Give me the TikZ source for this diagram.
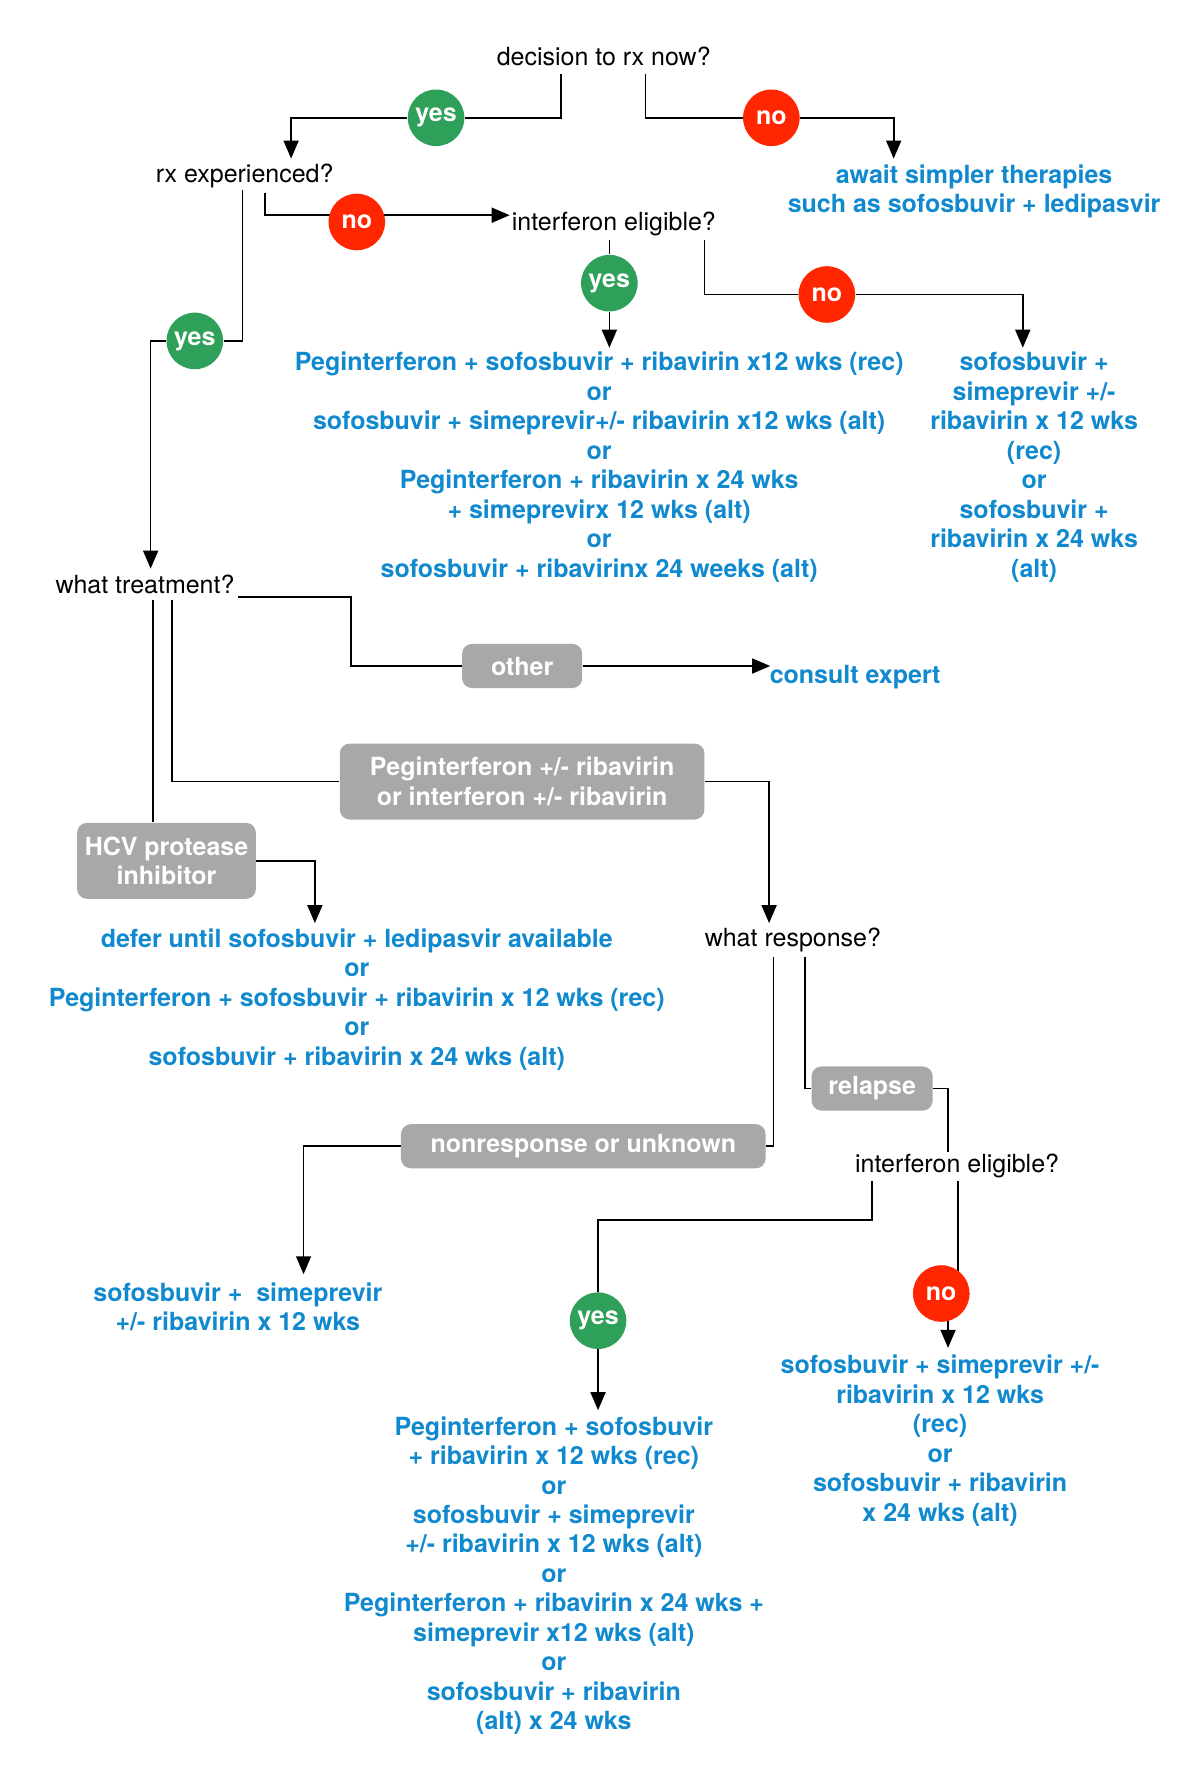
\documentclass[tikz,border=0pt]{standalone}
\usepackage{fontspec}
\setmainfont{TeX Gyre Heros}
\usetikzlibrary{arrows.meta,backgrounds}
\definecolor{rxblue}{RGB}{16,137,206}
\definecolor{yesgreen}{RGB}{46,160,90}
\definecolor{nored}{RGB}{255,38,0}
\definecolor{boxgrey}{RGB}{168,168,168}
\tikzset{
  question/.style={font=\fontsize{12.5}{14.73}\selectfont, inner sep=1pt},
  therapy/.style={font=\fontsize{12.5}{14.73}\selectfont\bfseries, text=rxblue, align=center, inner sep=1pt},
  yescirc/.style={circle, fill=yesgreen, text=white, font=\fontsize{12.5}{14.73}\selectfont\bfseries, minimum size=28.3pt, inner sep=0pt},
  nocirc/.style={yescirc, fill=nored},
  choice/.style={rounded corners=5pt, fill=boxgrey, text=white, font=\fontsize{12.5}{14.73}\selectfont\bfseries, align=center, inner sep=0pt},
  conn/.style={draw, line width=.85pt},
  arr/.style={conn, -{Triangle[length=9pt,width=7.5pt]}}
}
\begin{document}
\begin{tikzpicture}[x=0.56655pt,y=-0.56655pt]
    \useasboundingbox (0,0) rectangle (1059,1568);

    % questions
    \path (533,50)   node[question] (q1)  {decision to rx now?};
    \path (216,155)  node[question] (rx)  {rx experienced?};
    \path (542,198)  node[question] (ie1) {interferon eligible?};
    \path (128,516)  node[question] (wt)  {what treatment?};
    \path (700,830)  node[question] (wr)  {what response?};
    \path (845,1029) node[question] (ie2) {interferon eligible?};

    % answers
    \path (385,104)  node[yescirc] (y1) {yes};
    \path (681,104)  node[nocirc]  (n1) {no};
    \path (315,196)  node[nocirc]  (n2) {no};
    \path (538,250)  node[yescirc] (y2) {yes};
    \path (730,260)  node[nocirc]  (n3) {no};
    \path (172,301)  node[yescirc] (y3) {yes};
    \path (528,1166) node[yescirc] (y4) {yes};
    \path (831,1142) node[nocirc]  (n4) {no};

    % prior treatment / response boxes
    \path (461,588)  node[choice, minimum width=60.1pt, minimum height=22.1pt] (other) {other};
    \path (461,690)  node[choice, minimum width=182.4pt, minimum height=38pt] (peg) {Peginterferon +/- ribavirin\\or interferon +/- ribavirin};
    \path (147,760)  node[choice, minimum width=89.5pt, minimum height=38pt] (hcv) {HCV protease\\inhibitor};
    \path (515,1012) node[choice, minimum width=182.4pt, minimum height=22.1pt] (nonres) {nonresponse or unknown};
    \path (770,961)  node[choice, minimum width=60.6pt, minimum height=22.1pt] (relapse) {relapse};

    % therapies
    \path (860,169)  node[therapy] (await) {await simpler therapies\\such as sofosbuvir + ledipasvir};
    \path (529,412.5) node[therapy] (rec1) {Peginterferon + sofosbuvir + ribavirin x12 wks (rec)\\or\\sofosbuvir + simeprevir+/- ribavirin x12 wks (alt)\\or\\Peginterferon + ribavirin x 24 wks\\+ simeprevirx 12 wks (alt)\\or\\sofosbuvir + ribavirinx 24 weeks (alt)};
    \path (913,412.5) node[therapy] (rec2) {sofosbuvir +\\simeprevir +/-\\ribavirin x 12 wks\\(rec)\\or\\sofosbuvir +\\ribavirin x 24 wks\\(alt)};
    \path (755,598)  node[therapy] (consult) {consult expert};
    \path (315,882.5) node[therapy] (defer) {defer until sofosbuvir + ledipasvir available\\or\\Peginterferon + sofosbuvir + ribavirin x 12 wks (rec)\\or\\sofosbuvir + ribavirin x 24 wks (alt)};
    \path (210,1154) node[therapy] (sim) {sofosbuvir +\ \ simeprevir\\+/- ribavirin x 12 wks};
    \path (830,1272) node[therapy] (rec3) {sofosbuvir + simeprevir +/-\\ribavirin x 12 wks\\(rec)\\or\\sofosbuvir + ribavirin\\x 24 wks (alt)};
    \path (489,1391) node[therapy] (rec4) {Peginterferon + sofosbuvir\\+ ribavirin x 12 wks (rec)\\or\\sofosbuvir + simeprevir\\+/- ribavirin x 12 wks (alt)\\or\\Peginterferon + ribavirin x 24 wks +\\simeprevir x12 wks (alt)\\or\\sofosbuvir + ribavirin\\(alt) x 24 wks};

    % ports
    \coordinate (q1l)    at (495,65);
    \coordinate (q1r)    at (570,65);
    \coordinate (rxin)   at (257,140);
    \coordinate (awin)   at (789,140);
    \coordinate (rxl)    at (214,168);
    \coordinate (rxr)    at (234,170);
    \coordinate (ie1in)  at (450,190);
    \coordinate (ie1l)   at (538,212);
    \coordinate (ie1r)   at (622,212);
    \coordinate (rec1in) at (538,307);
    \coordinate (rec2in) at (903,307);
    \coordinate (wtin)   at (133,502);
    \coordinate (wtr)    at (210,527);
    \coordinate (wtbend) at (310,527);
    \coordinate (wtb1)   at (135,530);
    \coordinate (wtb2)   at (152,530);
    \coordinate (cein)   at (680,588);
    \coordinate (wrin)   at (679,815);
    \coordinate (defin)  at (278,815);
    \coordinate (wrl)    at (683,845);
    \coordinate (wrr)    at (711,845);
    \coordinate (simin)  at (268,1125);
    \coordinate (ie2t)   at (837,1017);
    \coordinate (ie2l)   at (770,1043);
    \coordinate (ie2b)   at (528,1077);
    \coordinate (ie2r)   at (846,1043);
    \coordinate (rec3in) at (837,1190);
    \coordinate (rec4in) at (528,1245);

    \begin{scope}[on background layer]
      \fill[white] (0,0) rectangle (1059,1568);
      \draw[arr] (q1l) |- (y1) -| (rxin); %yes
      \draw[arr] (q1r) |- (n1) -| (awin); %no
      \draw[arr] (rxr) |- (ie1in); %no
      \draw[arr] (rxl) |- (y3) -| (wtin); %yes
      \draw[arr] (ie1l) -- (y2) -- (rec1in); %yes
      \draw[arr] (ie1r) |- (n3) -| (rec2in); %no
      \draw[conn] (wtr) -- (wtbend) |- (other); %other
      \draw[arr] (other) -- (cein);
      \draw[conn] (wtb2) |- (peg); %peg
      \draw[arr] (peg) -| (wrin);
      \draw[conn] (wtb1) -- (wtb1 |- hcv.north); %hcv
      \draw[arr] (hcv) -| (defin);
      \draw[conn] (wrl) |- (nonres); %nonresponse
      \draw[arr] (nonres) -| (simin);
      \draw[conn] (wrr) |- (relapse); %relapse
      \draw[conn] (relapse) -| (ie2t);
      \draw[arr] (ie2l) |- (ie2b) -- (y4) -- (rec4in); %yes
      \draw[conn] (ie2r) |- (n4); %no
      \draw[arr] (n4.center -| rec3in) -- (rec3in);
    \end{scope}

\end{tikzpicture}
\end{document}
